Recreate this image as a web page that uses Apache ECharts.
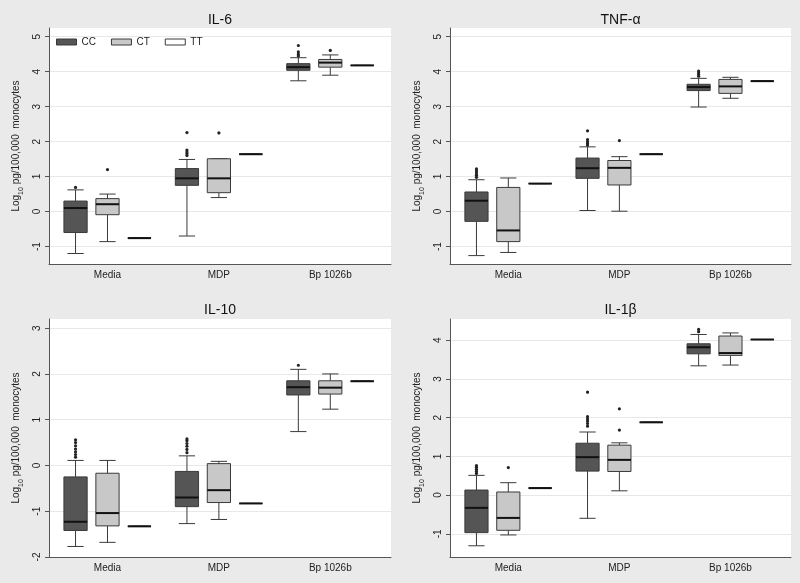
<!DOCTYPE html>
<html><head><meta charset="utf-8">
<script src="https://cdn.jsdelivr.net/npm/echarts@6/dist/echarts.min.js"></script>
<style>html,body{margin:0;padding:0;background:#eaeaea}#c{width:800px;height:583px}</style>
</head><body><div id="c"></div><script>
const categories = ['Media', 'MDP', 'Bp 1026b'];
const genotypes = ['CC', 'CT', 'TT'];

// Each box: [lower whisker, Q1, median, Q3, upper whisker] per category
const IL6_CC = [[-1.2, -0.6, 0.1, 0.3, 0.62], [-0.7, 0.75, 0.95, 1.23, 1.49], [3.74, 4.04, 4.13, 4.23, 4.4]];
const IL6_CT = [[-0.86, -0.09, 0.21, 0.37, 0.5], [0.4, 0.54, 0.95, 1.51, 1.51], [3.9, 4.13, 4.26, 4.35, 4.48]];
const IL6_TT = [-0.76, 1.64, 4.18];
const IL6_CC_OUT = [[0, 0.69], [1, 1.6], [1, 1.65], [1, 1.7], [1, 1.76], [1, 2.26], [2, 4.45], [2, 4.5], [2, 4.57], [2, 4.75]];
const IL6_CT_OUT = [[0, 1.2], [1, 2.25], [2, 4.61]];
const IL6_TICKS = [-1, 0, 1, 2, 3, 4, 5];

const TNF_CC = [[-1.26, -0.28, 0.31, 0.56, 0.91], [0.03, 0.95, 1.24, 1.53, 1.85], [2.99, 3.46, 3.56, 3.64, 3.81]];
const TNF_CT = [[-1.17, -0.86, -0.54, 0.69, 0.96], [0.01, 0.76, 1.25, 1.46, 1.57], [3.24, 3.38, 3.58, 3.78, 3.84]];
const TNF_TT = [0.8, 1.64, 3.73];
const TNF_CC_OUT = [[0, 0.98], [0, 1.04], [0, 1.1], [0, 1.16], [0, 1.22], [1, 1.9], [1, 1.95], [1, 2.0], [1, 2.06], [1, 2.31], [2, 3.87], [2, 3.92], [2, 3.97], [2, 4.02]];
const TNF_CT_OUT = [[1, 2.03]];
const TNF_TICKS = [-1, 0, 1, 2, 3, 4, 5];

const IL10_CC = [[-1.77, -1.42, -1.23, -0.25, 0.11], [-1.27, -0.9, -0.7, -0.13, 0.21], [0.74, 1.54, 1.71, 1.85, 2.1]];
const IL10_CT = [[-1.68, -1.32, -1.04, -0.17, 0.11], [-1.18, -0.81, -0.54, 0.04, 0.09], [1.23, 1.56, 1.7, 1.85, 2.0]];
const IL10_TT = [-1.33, -0.83, 1.84];
const IL10_CC_OUT = [[0, 0.18], [0, 0.24], [0, 0.3], [0, 0.36], [0, 0.43], [0, 0.5], [0, 0.56], [1, 0.28], [1, 0.35], [1, 0.42], [1, 0.48], [1, 0.54], [1, 0.58], [2, 2.19]];
const IL10_CT_OUT = [];
const IL10_TICKS = [-2, -1, 0, 1, 2, 3];

const IL1B_CC = [[-1.31, -0.97, -0.33, 0.13, 0.51], [-0.6, 0.62, 0.98, 1.34, 1.63], [3.34, 3.65, 3.82, 3.91, 4.15]];
const IL1B_CT = [[-1.03, -0.91, -0.59, 0.08, 0.32], [0.11, 0.61, 0.91, 1.29, 1.35], [3.36, 3.61, 3.67, 4.11, 4.19]];
const IL1B_TT = [0.18, 1.88, 4.02];
const IL1B_CC_OUT = [[0, 0.56], [0, 0.61], [0, 0.66], [0, 0.71], [0, 0.76], [1, 1.78], [1, 1.85], [1, 1.91], [1, 1.97], [1, 2.03], [1, 2.66], [2, 4.22], [2, 4.28]];
const IL1B_CT_OUT = [[0, 0.71], [1, 1.68], [1, 2.23]];
const IL1B_TICKS = [-1, 0, 1, 2, 3, 4];

const panels = [
  { title: 'IL-6', cc: IL6_CC, ct: IL6_CT, tt: IL6_TT, ccOut: IL6_CC_OUT, ctOut: IL6_CT_OUT, ticks: IL6_TICKS, min: -1.5, max: 5.25 },
  { title: 'TNF-α', cc: TNF_CC, ct: TNF_CT, tt: TNF_TT, ccOut: TNF_CC_OUT, ctOut: TNF_CT_OUT, ticks: TNF_TICKS, min: -1.5, max: 5.25 },
  { title: 'IL-10', cc: IL10_CC, ct: IL10_CT, tt: IL10_TT, ccOut: IL10_CC_OUT, ctOut: IL10_CT_OUT, ticks: IL10_TICKS, min: -2, max: 3.2 },
  { title: 'IL-1β', cc: IL1B_CC, ct: IL1B_CT, tt: IL1B_TT, ccOut: IL1B_CC_OUT, ctOut: IL1B_CT_OUT, ticks: IL1B_TICKS, min: -1.6, max: 4.55 }
];

// layout (pixels)
const layout = [
  { left: 49, top: 28, width: 342, height: 236, titleTop: 8 },
  { left: 450, top: 28, width: 341, height: 236, titleTop: 8 },
  { left: 49, top: 319, width: 342, height: 238, titleTop: 298 },
  { left: 450, top: 319, width: 341, height: 238, titleTop: 298 }
];
const X_MIN = -0.525, X_MAX = 2.545;   // category index domain of the x axis
const FILLS = ['#555555', '#c8c8c8', '#ffffff'];
const FONT = 'Liberation Sans, Arial, sans-serif';
const EDGE = '#3a3a3a';

function slot(api, g) {
  const bw = api.size([1, 0])[0];
  const avail = bw * 0.8 - 2;
  const gap = avail / 3 * 0.3;
  const w = (avail - 2 * gap) / 3;
  return { off: w / 2 - avail / 2 + g * (gap + w), w: w };
}

function boxRenderer(g) {
  return function (params, api) {
    const c = api.value(0);
    const s = slot(api, g);
    const cx = api.coord([c, 0])[0] + s.off;
    const y = k => api.coord([c, api.value(k)])[1];
    const lo = y(1), q1 = y(2), md = y(3), q3 = y(4), hi = y(5);
    const w = s.w, cap = w * 0.7;
    const ls = { stroke: EDGE, lineWidth: 1 };
    return { type: 'group', children: [
      { type: 'line', shape: { x1: cx, y1: q3, x2: cx, y2: hi }, style: ls },
      { type: 'line', shape: { x1: cx, y1: q1, x2: cx, y2: lo }, style: ls },
      { type: 'line', shape: { x1: cx - cap / 2, y1: hi, x2: cx + cap / 2, y2: hi }, style: ls },
      { type: 'line', shape: { x1: cx - cap / 2, y1: lo, x2: cx + cap / 2, y2: lo }, style: ls },
      { type: 'rect', shape: { x: cx - w / 2, y: q3, width: w, height: q1 - q3 }, style: { fill: FILLS[g], stroke: EDGE, lineWidth: 1 } },
      { type: 'line', shape: { x1: cx - w / 2, y1: md, x2: cx + w / 2, y2: md }, style: { stroke: '#111', lineWidth: 2 } }
    ]};
  };
}
function outRenderer(g) {
  return function (params, api) {
    const c = api.value(0);
    const s = slot(api, g);
    const p = api.coord([c, api.value(1)]);
    return { type: 'circle', shape: { cx: p[0] + s.off, cy: p[1], r: 1.6 }, style: { fill: '#222' } };
  };
}

const grids = [], xAxes = [], yAxes = [], titles = [], series = [];
panels.forEach((p, i) => {
  const L = layout[i];
  grids.push({ left: L.left, top: L.top, width: L.width, height: L.height, show: true, backgroundColor: '#ffffff', borderWidth: 0, outerBoundsMode: 'none' });
  titles.push({ text: p.title, left: L.left + L.width / 2 - 5, top: L.titleTop, textAlign: 'center',
    textStyle: { fontFamily: FONT, fontSize: 14, fontWeight: 'normal', color: '#111' } });
  xAxes.push({ type: 'value', gridIndex: i, min: X_MIN, max: X_MAX,
    axisLine: { show: true, onZero: false, lineStyle: { color: '#555', width: 1 } }, axisTick: { show: false },
    splitLine: { show: false },
    axisLabel: { fontFamily: FONT, fontSize: 10, color: '#222', margin: 6,
      customValues: categories.map((c, k) => k), formatter: v => categories[Math.round(v)] || '' } });
  yAxes.push({ type: 'value', gridIndex: i, min: p.min, max: p.max, splitNumber: Math.round(p.max - p.min),
    axisLine: { show: true, onZero: false, lineStyle: { color: '#555', width: 1 } },
    axisTick: { show: true, length: 4, lineStyle: { color: '#555' }, customValues: p.ticks },
    axisLabel: { fontFamily: FONT, fontSize: 10, color: '#222', rotate: 90, margin: 7, customValues: p.ticks },
    splitLine: { show: true, lineStyle: { color: '#e8e8e8', width: 1 } },
    name: '{a|Log}{b|10}{a| pg/100,000  monocytes}', nameLocation: 'middle', nameRotate: 90, nameGap: 24,
    nameTextStyle: { rich: {
      a: { fontFamily: FONT, fontSize: 10, color: '#222', lineHeight: 14, verticalAlign: 'top' },
      b: { fontFamily: FONT, fontSize: 7, color: '#222', lineHeight: 14, verticalAlign: 'bottom' } } } });
  const stats = [p.cc, p.ct, p.tt.map(v => [v, v, v, v, v])];
  stats.forEach((st, g) => {
    series.push({ type: 'custom', name: genotypes[g], xAxisIndex: i, yAxisIndex: i,
      itemStyle: { color: FILLS[g], borderColor: EDGE },
      data: st.map((s, c) => [c].concat(s)), encode: { x: 0, y: [1, 2, 3, 4, 5] },
      renderItem: boxRenderer(g), clip: false, silent: true });
  });
  [p.ccOut, p.ctOut].forEach((o, g) => {
    series.push({ type: 'custom', name: genotypes[g], xAxisIndex: i, yAxisIndex: i,
      itemStyle: { color: FILLS[g] },
      data: o, encode: { x: 0, y: 1 }, renderItem: outRenderer(g), silent: true });
  });
});

const chart = echarts.init(document.getElementById('c'), null, { renderer: 'canvas' });
chart.setOption({
  backgroundColor: '#eaeaea',
  animation: false,
  title: titles,
  grid: grids,
  xAxis: xAxes,
  yAxis: yAxes,
  legend: { left: 51, top: 32, icon: 'rect', itemWidth: 20, itemHeight: 6, itemGap: 15, selectedMode: false,
    textStyle: { fontFamily: FONT, fontSize: 10, color: '#222' },
    data: genotypes.map((n, g) => ({ name: n, itemStyle: { color: FILLS[g], borderColor: EDGE, borderWidth: 1 } })) },
  series: series
});
</script></body></html>
